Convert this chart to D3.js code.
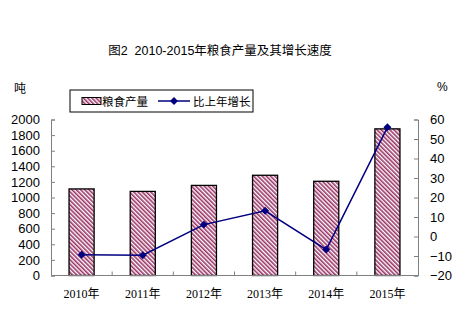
<!DOCTYPE html>
<html>
<head>
<meta charset="utf-8">
<script src="https://cdn.jsdelivr.net/npm/d3@7"></script>
<style>
  body { margin: 0; background: #fff; }
  svg text { fill: #000; }
</style>
</head>
<body>
<svg id="chart" width="473" height="324"></svg>
<script>
// data
const years = ["2010年", "2011年", "2012年", "2013年", "2014年", "2015年"];
const grain = [1110, 1078, 1155, 1285, 1208, 1880];
const growth = [-9.4, -9.6, 6.1, 13.2, -6.7, 56.0];
const leftTicks = [0, 200, 400, 600, 800, 1000, 1200, 1400, 1600, 1800, 2000];
const rightTicks = [-20, -10, 0, 10, 20, 30, 40, 50, 60];

const svg = d3.select("#chart");
const M = { left: 51, right: 418, top: 119.5, bottom: 275.5 };
const SANS = "Arial, 'Liberation Sans', 'Noto Sans CJK SC', sans-serif";
const CJK = "'Noto Sans CJK SC', sans-serif";
const SERIF = "'Liberation Serif', 'Times New Roman', 'Noto Serif CJK SC', serif";
const AXIS_COLOR = "#808080";
const BAR_COLOR = "#993366";
const LINE_COLOR = "#000080";

const x = d3.scaleBand().domain(years).range([M.left, M.right]).paddingInner(0.59).paddingOuter(0.295);
const xb = d3.scalePoint().domain(years).range([M.left, M.right]).padding(0.5);
const yL = d3.scaleLinear().domain([0, 2000]).range([M.bottom, M.top]);
const yR = d3.scaleLinear().domain([-20, 60]).range([M.bottom, M.top]);

// hatch pattern
const defs = svg.append("defs");
const pat = defs.append("pattern")
  .attr("id", "hatch")
  .attr("patternUnits", "userSpaceOnUse")
  .attr("width", 3).attr("height", 3)
  .attr("patternTransform", "rotate(-45)");
pat.append("rect").attr("width", 3).attr("height", 3).attr("fill", "#fff");
pat.append("line").attr("x1", 0.8).attr("y1", 0).attr("x2", 0.8).attr("y2", 3)
  .attr("stroke", BAR_COLOR).attr("stroke-width", 1.6);

// title
svg.append("text")
  .attr("x", 220).attr("y", 55)
  .attr("text-anchor", "middle")
  .style("font-family", SANS).style("font-size", "12.5px")
  .style("white-space", "pre")
  .text("图2  2010-2015年粮食产量及其增长速度");

// unit labels
svg.append("text").attr("x", 14).attr("y", 93)
  .style("font-family", CJK).style("font-size", "12px").text("吨");
svg.append("text").attr("x", 437).attr("y", 91)
  .style("font-family", SANS).style("font-size", "12px").text("%");

// bars
svg.selectAll("rect.bar")
  .data(grain)
  .enter().append("rect")
  .attr("class", "bar")
  .attr("x", (d, i) => x(years[i]))
  .attr("y", d => yL(d))
  .attr("width", x.bandwidth())
  .attr("height", d => yL(0) - yL(d))
  .attr("fill", "url(#hatch)")
  .attr("stroke", "#000")
  .attr("stroke-width", 1.3);

// axes
const leftAxis = svg.append("g")
  .attr("transform", `translate(${M.left},0)`)
  .call(d3.axisLeft(yL).tickValues(leftTicks).tickFormat(d3.format("d"))
    .tickSizeInner(-4).tickSizeOuter(-4).tickPadding(11));
const rightAxis = svg.append("g")
  .attr("transform", `translate(${M.right},0)`)
  .call(d3.axisRight(yR).tickValues(rightTicks).tickFormat(d3.format("d"))
    .tickSizeInner(-4).tickSizeOuter(-4).tickPadding(12));
const bounds = d3.range(years.length + 1).map(i => M.left + i * (M.right - M.left) / years.length);
const bottomAxis = svg.append("g")
  .attr("transform", `translate(0,${M.bottom})`);
bottomAxis.append("line")
  .attr("x1", M.left).attr("x2", M.right)
  .attr("stroke", AXIS_COLOR);
bottomAxis.selectAll("line.tk")
  .data(bounds.slice(1, -1))
  .enter().append("line")
  .attr("class", "tk")
  .attr("x1", d => d).attr("x2", d => d)
  .attr("y1", 0).attr("y2", -4)
  .attr("stroke", AXIS_COLOR);
bottomAxis.selectAll("text")
  .data(years)
  .enter().append("text")
  .attr("x", d => xb(d))
  .attr("y", 22)
  .attr("text-anchor", "middle")
  .style("font-size", "12px")
  .each(function (d) {
    const t = d3.select(this);
    t.append("tspan").style("font-family", SERIF).text(d.slice(0, 4));
    t.append("tspan").style("font-family", CJK).text(d.slice(4));
  });

[leftAxis, rightAxis].forEach(g => {
  g.select(".domain").attr("stroke", AXIS_COLOR);
  g.selectAll(".tick line").attr("stroke", AXIS_COLOR);
  g.selectAll(".tick text")
    .style("font-family", SANS).style("font-size", "13px").attr("fill", "#000");
});

// growth line
const line = d3.line()
  .x((d, i) => xb(years[i]))
  .y(d => yR(d));
svg.append("path")
  .datum(growth)
  .attr("d", line)
  .attr("fill", "none")
  .attr("stroke", LINE_COLOR)
  .attr("stroke-width", 1.5);
const diamond = d3.symbol().type(d3.symbolDiamond2).size(40);
svg.selectAll("path.pt")
  .data(growth)
  .enter().append("path")
  .attr("class", "pt")
  .attr("d", diamond)
  .attr("transform", (d, i) => `translate(${xb(years[i])},${yR(d)})`)
  .attr("fill", LINE_COLOR);

// legend
const lg = svg.append("g").attr("transform", "translate(70,90)");
lg.append("rect").attr("width", 183).attr("height", 22)
  .attr("fill", "#fff").attr("stroke", "#000").attr("stroke-width", 1);
lg.append("rect").attr("x", 12).attr("y", 7.5).attr("width", 19).attr("height", 7)
  .attr("fill", "url(#hatch)").attr("stroke", "#000").attr("stroke-width", 1);
lg.append("text").attr("x", 32).attr("y", 15.5)
  .style("font-family", CJK).style("font-size", "11.5px").text("粮食产量");
lg.append("line").attr("x1", 88).attr("x2", 120).attr("y1", 11).attr("y2", 11)
  .attr("stroke", LINE_COLOR).attr("stroke-width", 1.5);
lg.append("path").attr("d", diamond).attr("transform", "translate(104,11)").attr("fill", LINE_COLOR);
lg.append("text").attr("x", 123).attr("y", 15.5)
  .style("font-family", CJK).style("font-size", "11.5px").text("比上年增长");
</script>
</body>
</html>
